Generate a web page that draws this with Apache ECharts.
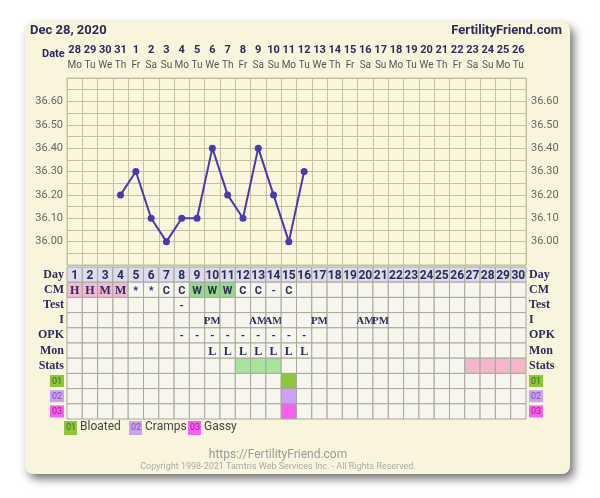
<!DOCTYPE html>
<html><head><meta charset="utf-8">
<script src="https://cdn.jsdelivr.net/npm/echarts@6/dist/echarts.min.js"></script>
<style>html,body{margin:0;padding:0;background:#fff}#c{width:600px;height:498px}</style>
</head><body><div id="c"></div>
<script>
// ---- data ----
var dates = ['28','29','30','31','1','2','3','4','5','6','7','8','9','10','11','12','13','14','15','16','17','18','19','20','21','22','23','24','25','26'];
var weekdays = ['Mo','Tu','We','Th','Fr','Sa','Su','Mo','Tu','We','Th','Fr','Sa','Su','Mo','Tu','We','Th','Fr','Sa','Su','Mo','Tu','We','Th','Fr','Sa','Su','Mo','Tu'];
var cycleDays = ['1','2','3','4','5','6','7','8','9','10','11','12','13','14','15','16','17','18','19','20','21','22','23','24','25','26','27','28','29','30'];
var temps = [null,null,null,36.20,36.30,36.10,36.00,36.10,36.10,36.40,36.20,36.10,36.40,36.20,36.00,36.30,null,null,null,null,null,null,null,null,null,null,null,null,null,null];
var rowNames = ['Day','CM','Test','I','OPK','Mon','Stats','01','02','03'];
var cmRow   = ['H','H','M','M','*','*','C','C','W','W','W','C','C','-','C','','','','','','','','','','','','','','',''];
var testRow = ['','','','','','','','-','','','','','','','','','','','','','','','','','','','','','',''];
var iRow    = ['','','','','','','','','','PM','','','AM','AM','','','PM','','','AM','PM','','','','','','','','',''];
var opkRow  = ['','','','','','','','-','-','-','-','-','-','-','-','-','','','','','','','','','','','','','',''];
var monRow  = ['','','','','','','','','','L','L','L','L','L','L','L','','','','','','','','','','','','','',''];
var statsRow= ['','','','','','','','','','','','g','g','g','','','','','','','','','','','','','p','p','p','p'];
var sym01   = [0,0,0,0,0,0,0,0,0,0,0,0,0,0,1,0,0,0,0,0,0,0,0,0,0,0,0,0,0,0];
var sym02   = [0,0,0,0,0,0,0,0,0,0,0,0,0,0,1,0,0,0,0,0,0,0,0,0,0,0,0,0,0,0];
var sym03   = [0,0,0,0,0,0,0,0,0,0,0,0,0,0,1,0,0,0,0,0,0,0,0,0,0,0,0,0,0,0];
var legendItems = [['01','Bloated'],['02','Cramps'],['03','Gassy']];

// ---- styles ----
var NAVY = '#2b2b5c';
var SERIF = '"Liberation Serif", "DejaVu Serif", serif';
var SANS = 'Roboto, "Noto Sans", sans-serif';
var CELL = '#f6f6ee', DAYC = '#dcdcea';
var fills = {H:'#f2b9d3', M:'#f2b9d3', W:'#96d98c', g:'#a8e39c', p:'#f2b8c9', s1:'#8cc63f', s2:'#c9a2f2', s3:'#f562ee'};

var cells = [];
for (var i = 0; i < 30; i++) {
  cells.push({x:i, y:0, text:cycleDays[i], fill:DAYC, font:'bold 12px ' + SANS});
  var cm = cmRow[i];
  cells.push({x:i, y:1, text:cm, fill:fills[cm] || CELL, font:(cm==='H'||cm==='M' ? 'bold 12px ' + SERIF : 'bold 11px ' + SANS)});
  cells.push({x:i, y:2, text:testRow[i], fill:CELL, font:'bold 11px ' + SANS});
  cells.push({x:i, y:3, text:iRow[i], fill:CELL, font:'bold 11px ' + SERIF});
  cells.push({x:i, y:4, text:opkRow[i], fill:CELL, font:'bold 11px ' + SANS});
  cells.push({x:i, y:5, text:monRow[i], fill:CELL, font:'bold 12px ' + SERIF});
  cells.push({x:i, y:6, text:'', fill:fills[statsRow[i]] || CELL});
  cells.push({x:i, y:7, text:'', fill:sym01[i] ? fills.s1 : CELL});
  cells.push({x:i, y:8, text:'', fill:sym02[i] ? fills.s2 : CELL});
  cells.push({x:i, y:9, text:'', fill:sym03[i] ? fills.s3 : CELL});
}

var rowLabelRich = {
  s: {fontFamily: SERIF, fontWeight:'bold', fontSize:12, color:NAVY},
  b1: {backgroundColor:fills.s1, color:'#3f6a17', fontFamily:SANS, fontSize:9, padding:[2,2,1,2]},
  b2: {backgroundColor:fills.s2, color:'#7a52b0', fontFamily:SANS, fontSize:9, padding:[2,2,1,2]},
  b3: {backgroundColor:fills.s3, color:'#9a1f95', fontFamily:SANS, fontSize:9, padding:[2,2,1,2]}
};
function rowFmt(v){
  if (v === '01') return '{b1|01}';
  if (v === '02') return '{b2|02}';
  if (v === '03') return '{b3|03}';
  return '{s|' + v + '}';
}
function tempFmt(v){
  var k = Math.round(v * 100);
  if (k % 10 !== 0 || k < 3600 || k > 3660) return '';
  return (k / 100).toFixed(2);
}

var legendGraphics = [];
var lx = [64, 129, 188];
legendItems.forEach(function(it, j){
  legendGraphics.push({type:'rect', left:lx[j], top:421, shape:{width:13, height:14}, style:{fill:fills['s'+(j+1)]}});
  legendGraphics.push({type:'text', left:lx[j]+2, top:423, style:{text:it[0], font:'9px ' + SANS, fill:['#3f6a17','#7a52b0','#9a1f95'][j]}});
  legendGraphics.push({type:'text', left:lx[j]+16, top:421, style:{text:it[1], font:'12px ' + SANS, fill:'#444'}});
});

var chart = echarts.init(document.getElementById('c'), null, {renderer:'canvas'});
chart.setOption({
  animation:false,
  backgroundColor:'#ffffff',
  graphic: [
    {type:'rect', left:25, top:22, z:-10, shape:{width:545, height:452, r:8},
     style:{fill:'#f9f5dc', shadowBlur:10, shadowOffsetX:4, shadowOffsetY:5, shadowColor:'rgba(0,0,0,0.55)'}},
    {type:'text', left:30, top:24, style:{text:'Dec 28, 2020', font:'bold 13px ' + SANS, fill:NAVY}},
    {type:'text', right:38, top:24, style:{text:'FertilityFriend.com', font:'bold 13px ' + SANS, fill:NAVY}},
    {type:'text', left:42, top:49, style:{text:'Date', font:'bold 11px ' + SANS, fill:NAVY}},
    {type:'text', x:278, y:449, style:{text:'https://FertilityFriend.com', font:'12px ' + SANS, fill:'#9a9a9a', textAlign:'center'}},
    {type:'text', x:278, y:462, style:{text:'Copyright 1998-2021 Tamtris Web Services Inc. - All Rights Reserved.', font:'9px ' + SANS, fill:'#aaaaaa', textAlign:'center'}}
  ].concat(legendGraphics),
  grid: [
    {left:67, right:74, top:78, height:187, show:true, backgroundColor:'#faf6dc', borderColor:'#c6bfa2', borderWidth:1},
    {left:67, right:74, top:267, height:152}
  ],
  xAxis: [
    {gridIndex:0, type:'category', data:dates, position:'top', boundaryGap:true,
     axisLine:{show:false}, axisTick:{show:false},
     splitLine:{show:true, lineStyle:{color:'#c6bfa2', width:1}},
     axisLabel:{interval:0, margin:5,
       formatter:function(v, idx){ return '{d|' + v + '}\n{w|' + weekdays[idx] + '}'; },
       rich:{d:{fontFamily:SANS, fontWeight:'bold', fontSize:11, color:NAVY, lineHeight:15},
             w:{fontFamily:SANS, fontSize:10, color:'#555', lineHeight:15}}}},
    {gridIndex:1, type:'category', data:cycleDays, boundaryGap:true, show:false}
  ],
  yAxis: [
    {gridIndex:0, type:'value', min:35.9, max:36.7, interval:0.05,
     axisLine:{show:false}, axisTick:{show:false},
     splitLine:{show:true, lineStyle:{color:'#c6bfa2', width:1}},
     axisLabel:{formatter:tempFmt, margin:4, fontFamily:SANS, fontSize:11, color:'#666'}},
    {gridIndex:0, type:'value', min:35.9, max:36.7, interval:0.05, position:'right',
     axisLine:{show:false}, axisTick:{show:false}, splitLine:{show:false},
     axisLabel:{formatter:tempFmt, margin:5, fontFamily:SANS, fontSize:11, color:'#666'}},
    {gridIndex:1, type:'category', data:rowNames, inverse:true,
     axisLine:{show:false}, axisTick:{show:false},
     axisLabel:{interval:0, margin:3, formatter:rowFmt, rich:rowLabelRich}},
    {gridIndex:1, type:'category', data:rowNames, inverse:true, position:'right',
     axisLine:{show:false}, axisTick:{show:false},
     axisLabel:{interval:0, margin:3, align:'left', formatter:rowFmt, rich:rowLabelRich}}
  ],
  series: [
    {type:'line', xAxisIndex:0, yAxisIndex:0, data:temps, connectNulls:false,
     symbol:'circle', symbolSize:7, lineStyle:{color:'#4a3aad', width:2},
     itemStyle:{color:'#4a3aad'}, z:5},
    {type:'custom', xAxisIndex:1, yAxisIndex:2,
     data:cells.map(function(c){ return [c.x, c.y]; }),
     renderItem:function(params, api){
       var c = cells[params.dataIndex];
       var p = api.coord([api.value(0), api.value(1)]);
       var s = api.size([1, 1]);
       var children = [{type:'rect', shape:{x:p[0]-s[0]/2, y:p[1]-s[1]/2, width:s[0], height:s[1]},
         style:{fill:c.fill, stroke:'#a9a79c', lineWidth:1}}];
       if (c.text) children.push({type:'text', style:{x:p[0], y:p[1]+1, text:c.text, font:c.font, fill:NAVY, textAlign:'center', textVerticalAlign:'middle'}});
       return {type:'group', children:children};
     }}
  ]
});
</script></body></html>
